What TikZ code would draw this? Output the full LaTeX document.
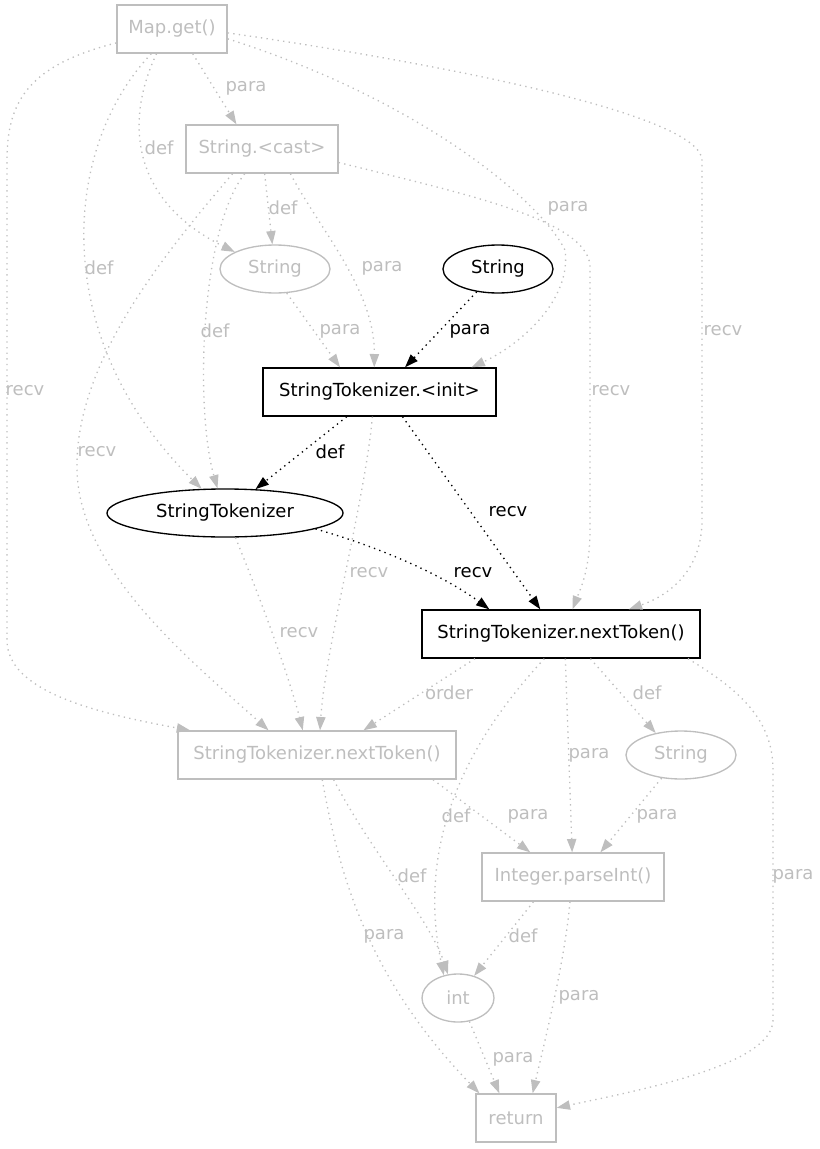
\documentclass[tikz,border=0pt]{standalone}
\usepackage{fontspec}
\setmainfont{DejaVu Sans}
\usepackage{tikz}
\usetikzlibrary{arrows.meta,shapes.geometric}
\definecolor{lg}{HTML}{BEBEBE}

\begin{document}
\begin{tikzpicture}[x=0.75pt,y=-0.75pt,
	font=\fontsize{13.5pt}{16pt}\selectfont,
	box/.style={draw,rectangle,minimum height=36pt,inner sep=0pt,line width=1pt},
	ell/.style={draw,ellipse,minimum height=36pt,inner sep=0pt,line width=1pt},
	dim/.style={draw=lg,text=lg},
	ed/.style={dash pattern=on 1pt off 3.2pt,line width=1pt,-{Triangle[length=10pt,width=7pt]}},
	edg/.style={ed,lg},
	lbl/.style={inner sep=0pt}]
	\useasboundingbox (0,0) rectangle (820,1149);

	\node[box,dim,minimum width=82.5pt] (mg) at (172,29) {Map.get()};
	\node[box,dim,minimum width=114pt] (sc) at (262,149) {String.<cast>};
	\node[ell,dim,minimum width=82.5pt] (s1) at (275,269) {String};
	\node[ell,minimum width=82.5pt] (s2) at (498,269) {String};
	\node[box,minimum width=174.75pt] (ini) at (379.5,392) {StringTokenizer.<init>};
	\node[ell,minimum width=177pt] (st) at (225,513) {StringTokenizer};
	\node[box,minimum width=208.5pt] (nt1) at (561,634) {StringTokenizer.nextToken()};
	\node[box,dim,minimum width=208.5pt] (nt2) at (317,755) {StringTokenizer.nextToken()};
	\node[ell,dim,minimum width=82.5pt] (s3) at (681,755) {String};
	\node[box,dim,minimum width=136.5pt] (pi) at (573,877) {Integer.parseInt()};
	\node[ell,dim,minimum width=54pt] (iv) at (458,998) {int};
	\node[box,dim,minimum width=60pt] (rt) at (516,1118) {return};

	\draw[edg] (mg.310) -- (sc.136) node[lbl] (l1) at (246,88) {para};
	\draw[edg] (mg.238) .. controls (125,120) and (130,200) .. (s1.157) node[lbl] (l2) at (159,148) {def};
	\draw[edg] (mg.230) .. controls (60,150) and (50,340) .. (st.134) node[lbl] (l3) at (99,268) {def};
	\draw[edg] (mg.194) .. controls (30,65) and (7,100) .. (7,160) -- (7,640) .. controls (7,690) and (90,712) .. (nt2.169) node[lbl] (l4) at (25,391) {recv};
	\draw[edg] (mg.350) .. controls (420,100) and (540,200) .. (565,250) .. controls (572,300) and (520,345) .. (ini.15) node[lbl] (l5) at (568,208) {para};
	\draw[edg] (mg.356) .. controls (450,65) and (700,115) .. (702,160) -- (702,520) .. controls (702,570) and (670,595) .. (nt1.20) node[lbl] (l6) at (723,331) {recv};

	\draw[edg] (sc) -- (s1) node[lbl] (l7) at (283,208) {def};
	\draw[edg] (sc.319) .. controls (320,230) and (375,290) .. (ini.102) node[lbl] (l8) at (382,268) {para};
	\draw[edg] (sc.235) .. controls (200,230) and (195,410) .. (st.107) node[lbl] (l9) at (215,331) {def};
	\draw[edg] (sc.220) .. controls (150,270) and (75,370) .. (77,470) .. controls (79,570) and (190,660) .. (nt2.153) node[lbl] (l10) at (97,452) {recv};
	\draw[edg] (sc.350) .. controls (470,195) and (585,220) .. (590,265) -- (590,530) .. controls (590,570) and (580,590) .. (nt1.65) node[lbl] (l11) at (611,391) {recv};

	\draw[edg] (s1.296) -- (ini.148) node[lbl] (l12) at (340,331) {para};
	\draw[ed] (s2.227) -- (ini.44) node[lbl] (l13) at (470,331) {para};

	\draw[ed] (ini.217) -- (st.38) node[lbl] (l14) at (330,452) {def};
	\draw[ed] (ini.313) -- (nt1.130) node[lbl] (l15) at (508,512) {recv};
	\draw[edg] (ini.254) .. controls (365,500) and (325,650) .. (nt2.83) node[lbl] (l16) at (369,573) {recv};

	\draw[ed] (st.350) .. controls (390,550) and (450,580) .. (nt1.161) node[lbl] (l17) at (473,573) {recv};
	\draw[edg] (st.293) .. controls (265,610) and (290,680) .. (nt2.120) node[lbl] (l18) at (299,633) {recv};

	\draw[edg] (nt1.196) -- (nt2.28) node[lbl] (l19) at (449,693) {order};
	\draw[edg] (nt1.320) -- (s3.139) node[lbl] (l20) at (647,693) {def};
	\draw[edg] (nt1.280) -- (pi.92) node[lbl] (l21) at (589,755) {para};
	\draw[edg] (nt1.236) .. controls (450,760) and (420,860) .. (iv.122) node[lbl] (l22) at (456,816) {def};
	\draw[edg] (nt1.349) .. controls (740,690) and (773,720) .. (773,770) -- (773,1020) .. controls (773,1065) and (640,1090) .. (rt.14) node[lbl] (l23) at (793,876) {para};

	\draw[edg] (nt2.348) -- (pi.150) node[lbl] (l24) at (528,816) {para};
	\draw[edg] (nt2.304) .. controls (370,850) and (430,920) .. (iv.113) node[lbl] (l25) at (412,876) {def};
	\draw[edg] (nt2.282) .. controls (340,880) and (370,980) .. (rt.146) node[lbl] (l26) at (384,936) {para};

	\draw[edg] (s3.230) -- (pi.42) node[lbl] (l27) at (657,816) {para};
	\draw[edg] (pi.212) -- (iv.54) node[lbl] (l28) at (523,936) {def};
	\draw[edg] (pi.263) .. controls (565,960) and (545,1040) .. (rt.56) node[lbl] (l29) at (579,997) {para};
	\draw[edg] (iv.296) -- (rt.124) node[lbl] (l30) at (513,1059) {para};

\end{tikzpicture}
\end{document}
